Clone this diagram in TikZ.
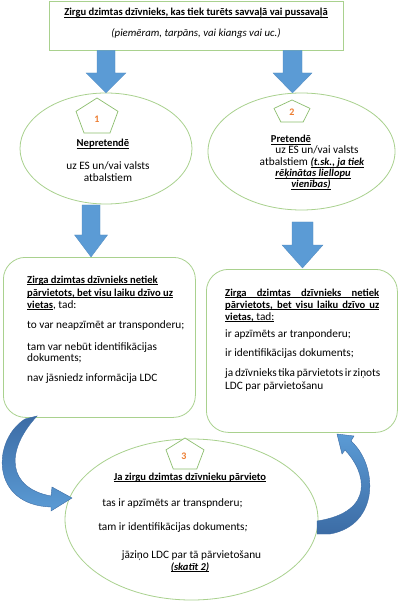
\documentclass[tikz,border=0pt]{standalone}
\usepackage{fontspec}
\setmainfont{Carlito}
\usetikzlibrary{shapes.geometric,shadings}
\definecolor{grn}{RGB}{169,209,142}
\definecolor{pgrn}{RGB}{140,190,110}
\definecolor{blu}{RGB}{91,155,213}
\definecolor{bludk}{RGB}{60,108,165}
\definecolor{org}{RGB}{237,125,49}
\newcommand\myul[1]{\setbox0\hbox{#1}\rlap{\rule[-1.9pt]{\wd0}{0.6pt}}\box0}
\newcommand\bt[1]{{\fontsize{10.6}{13}\selectfont\bfseries #1}}
\newcommand\bit[1]{{\fontsize{10.5}{13}\selectfont\bfseries\itshape #1}}
\tikzset{
  outl/.style={draw=grn, line width=0.8pt, fill=white},
  bluarrow/.style={fill=blu, draw=blu!90!black, line width=0.3pt},
  curvarrow/.style={draw=bludk, line width=0.4pt},
  t/.style={inner sep=0pt, font=\fontsize{11.3}{13}\selectfont},
  num/.style={inner sep=0pt, text=org, font=\bfseries\fontsize{10}{11}\selectfont},
}
\newcommand\pentagonshape[4]{% cx, top, width, height
  \draw[draw=pgrn, line width=0.7pt, fill=white] (#1,#2) -- (#1+#3/2,#2+0.382*#4) -- (#1+0.309*#3,#2+#4) -- (#1-0.309*#3,#2+#4) -- (#1-#3/2,#2+0.382*#4) -- cycle;}
\newcommand\downblock[6]{% cx, top, shaft half, head start, head half, tip
  \fill[bluarrow] (#1-#3,#2) -- (#1+#3,#2) -- (#1+#3,#4) -- (#1+#5,#4) -- (#1,#6) -- (#1-#5,#4) -- (#1-#3,#4) -- cycle;}
\begin{document}
\begin{tikzpicture}[x=1pt,y=-1pt]
\useasboundingbox (0,0) rectangle (400,609);
\fill[white] (0,0) rectangle (400,609);

% shapes
\node[outl, line width=1pt, minimum width=294pt, minimum height=49pt, anchor=north west, inner sep=0pt] (top) at (49,1) {};
\node[outl, ellipse, minimum width=172pt, minimum height=111pt, inner sep=0pt] (e1) at (106,148.5) {};
\node[outl, ellipse, minimum width=187pt, minimum height=117pt, inner sep=0pt] (e2) at (301.5,151.5) {};
\node[outl, rounded corners=22pt, minimum width=192pt, minimum height=160pt, anchor=north west, inner sep=0pt] (b1) at (3,257) {};
\node[outl, rounded corners=22pt, minimum width=191pt, minimum height=163pt, anchor=north west, inner sep=0pt] (b2) at (206,269) {};
\node[outl, ellipse, minimum width=253pt, minimum height=161pt, inner sep=0pt] (e3) at (191.5,519.5) {};

% straight block arrows
\downblock{106}{50.5}{9}{73}{20}{93}
\downblock{292.5}{50.5}{9.5}{73}{19.5}{93}
\downblock{91}{205}{9}{235}{16.5}{257}
\downblock{302.5}{222}{10.5}{245}{20.5}{268}

% curved arrows
\draw[curvarrow, top color=bludk, bottom color=blu] (25,419) .. controls (-8,440) and (-10,505) .. (51,507) -- (51,511) -- (72,498) -- (52,487) -- (51,496) .. controls (8,488) and (4,452) .. (37,416) -- cycle;
\draw[curvarrow, top color=blu, bottom color=bludk] (351,441) .. controls (378,465) and (380,525) .. (330,534) -- (317,534) -- (317,521) .. controls (376,512) and (366,472) .. (345,450) -- (342,454) -- (337,434) -- (354,436) -- cycle;

% pentagons
\pentagonshape{97}{98}{42}{35}
\node[num] (n1) at (97,119) {1};
\pentagonshape{292}{100}{36}{22}
\node[num] (n2) at (292,112) {2};
\pentagonshape{185}{438}{38}{31}
\node[num] (n3) at (184,456) {3};

% top box text
\node[t, anchor=base] (title) at (196,16) {\myul{\bt{Zirgu dzimtas dzīvnieks, kas tiek turēts savvaļā vai pussavaļā}}};
\node[t, anchor=base, font=\itshape\fontsize{10.8}{12}\selectfont] (sub) at (196,37) {(piemēram, tarpāns, vai kiangs vai uc.)};

% ellipse 1 text
\node[t, anchor=base] (e1a) at (103,147) {\myul{\bt{Nepretendē}}};
\node[t, anchor=base] (e1b) at (108,170) {uz ES un/vai valsts};
\node[t, anchor=base] (e1c) at (108,182) {atbalstiem};

% ellipse 2 text
\node[t, anchor=base] (e2a) at (291,143) {\myul{\bt{Pretendē}}};
\node[t, anchor=base] (e2b) at (317,154) {uz ES un/vai valsts};
\node[t, anchor=base] (e2c) at (312,166) {atbalstiem \myul{\bit{(t.sk., ja tiek}}};
\node[t, anchor=base] (e2d) at (313,177) {\myul{\bit{rēķinātas liellopu}}};
\node[t, anchor=base] (e2e) at (311,188) {\myul{\bit{vienības)}}};

% left box text
\node[t, anchor=base west] (l1) at (27,283) {\myul{\bt{Zirga dzimtas dzīvnieks netiek}}};
\node[t, anchor=base west] (l2) at (27,296) {\myul{\bt{pārvietots, bet visu laiku dzīvo uz}}};
\node[t, anchor=base west] (l3) at (27,308) {\myul{\bt{vietas}}, tad:};
\node[t, anchor=base west] (l4) at (27,328) {to var neapzīmēt ar transponderu;};
\node[t, anchor=base west] (l5) at (27,350) {tam var nebūt identifikācijas};
\node[t, anchor=base west] (l6) at (27,361) {dokuments;};
\node[t, anchor=base west] (l7) at (27,381) {nav jāsniedz informācija LDC};

% right box text
\node[t, anchor=base west] (r1) at (225,296) {\myul{\makebox[154pt][s]{\bt{Zirga dzimtas dzīvnieks netiek}}}};
\node[t, anchor=base west] (r2) at (225,308) {\myul{\makebox[154pt][s]{\bt{pārvietots, bet visu laiku dzīvo uz}}}};
\node[t, anchor=base west] (r3) at (225,320) {\myul{\bt{vietas,} tad:}};
\node[t, anchor=base west] (r4) at (225,337) {ir apzīmēts ar tranponderu;};
\node[t, anchor=base west] (r5) at (225,356) {ir identifikācijas dokuments;};
\node[t, anchor=base west] (r6) at (225,376) {\makebox[154pt][s]{ja dzīvnieks tika pārvietots ir ziņots}};
\node[t, anchor=base west] (r7) at (225,389) {LDC par pārvietošanu};

% bottom ellipse text
\node[t, anchor=base] (b3a) at (190,480) {\myul{\bt{Ja zirgu dzimtas dzīvnieku pārvieto}}};
\node[t, anchor=base] (b3b) at (172.5,506) {tas ir apzīmēts ar transpnderu;};
\node[t, anchor=base] (b3c) at (173,530) {tam ir identifikācijas dokuments\textit{;}};
\node[t, anchor=base] (b3d) at (191.5,558) {jāziņo LDC par tā pārvietošanu};
\node[t, anchor=base] (b3e) at (190,570) {\myul{\bit{(skatīt 2)}}};
\end{tikzpicture}
\end{document}
